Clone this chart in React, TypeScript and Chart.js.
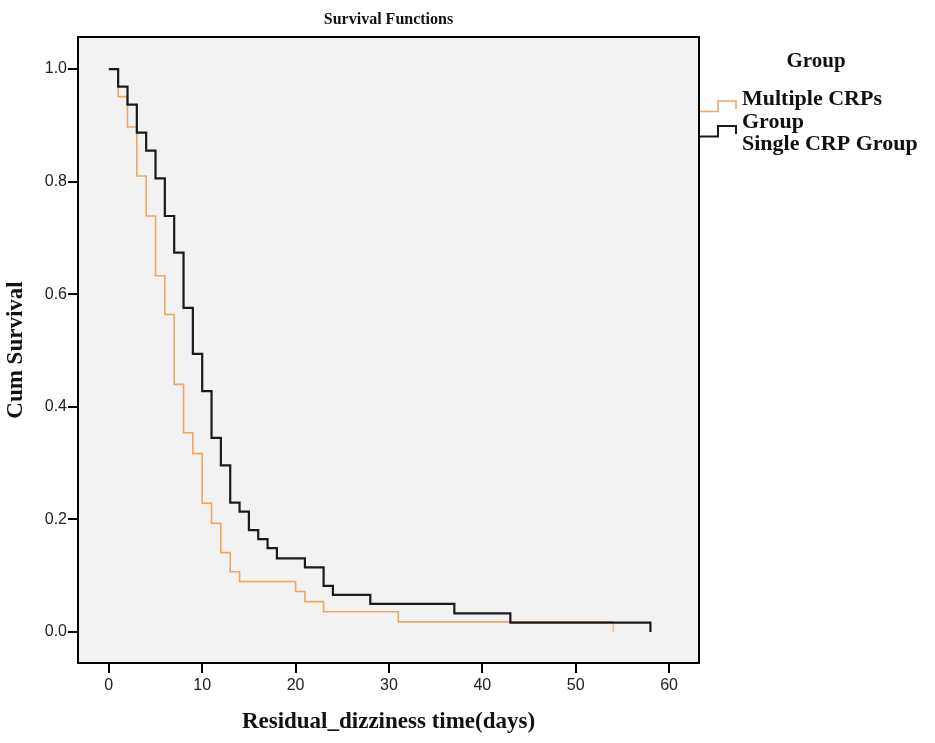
import { useEffect, useRef } from "react";
import { Chart, registerables, Plugin } from "chart.js";

Chart.register(...registerables);

// Kaplan-Meier steps (time in days, cumulative survival)
const multipleTimes = [0, 1, 2, 3, 4, 5, 6, 7, 8, 9, 10, 11, 12, 13, 14, 20, 21, 23, 31, 54];
const multipleSurvival = [
  1.0, 0.951, 0.897, 0.81, 0.739, 0.633, 0.564, 0.44, 0.354, 0.317, 0.229, 0.193, 0.141, 0.107,
  0.0895, 0.072, 0.054, 0.036, 0.018, 0.018,
];
const multipleCensored = [54];

const singleTimes = [0, 1, 2, 3, 4, 5, 6, 7, 8, 9, 10, 11, 12, 13, 14, 15, 16, 17, 18, 21, 23, 24, 28, 37, 43, 58];
const singleSurvival = [
  1.0, 0.969, 0.937, 0.887, 0.855, 0.806, 0.739, 0.674, 0.576, 0.494, 0.428, 0.345, 0.296, 0.23,
  0.214, 0.181, 0.165, 0.149, 0.131, 0.115, 0.082, 0.066, 0.05, 0.033, 0.0166, 0,
];

const groupLabels = ["Multiple CRPs Group", "Single CRP Group"];
const xTicks = [0, 10, 20, 30, 40, 50, 60];
const yTicks = [0, 0.2, 0.4, 0.6, 0.8, 1.0];

const ORANGE = "#eaa862";
const BLACK = "#1a1a1a";
const SERIF = "'Liberation Serif', 'Times New Roman', serif";
const SANS = "'Liberation Sans', Arial, sans-serif";

const toPoints = (t: number[], s: number[]) => t.map((x, i) => ({ x, y: s[i] }));

const valueAt = (t: number[], s: number[], time: number) => {
  let v = s[0];
  t.forEach((x, i) => {
    if (x <= time) v = s[i];
  });
  return v;
};

// censor mark: a short tick hanging below the curve
const makeCensorMark = () => {
  const c = document.createElement("canvas");
  c.width = 3;
  c.height = 20;
  const g = c.getContext("2d");
  if (g) {
    g.strokeStyle = ORANGE;
    g.lineWidth = 1.2;
    g.beginPath();
    g.moveTo(1.5, 10);
    g.lineTo(1.5, 20);
    g.stroke();
  }
  return c;
};

const framePlugin: Plugin<"line"> = {
  id: "frame",
  beforeDraw(chart) {
    const { ctx, chartArea: a } = chart;
    ctx.save();
    ctx.fillStyle = "#f2f2f2";
    ctx.fillRect(a.left, a.top, a.right - a.left, a.bottom - a.top);
    ctx.restore();
  },
  afterDraw(chart) {
    const { ctx, chartArea: a } = chart;
    ctx.save();
    ctx.strokeStyle = "#000";
    ctx.lineWidth = 2;
    ctx.strokeRect(a.left, a.top, a.right - a.left, a.bottom - a.top);

    // title
    ctx.fillStyle = "#111";
    ctx.font = `bold 16px ${SERIF}`;
    ctx.textAlign = "center";
    ctx.textBaseline = "alphabetic";
    ctx.fillText("Survival Functions", (a.left + a.right) / 2, 24);

    // legend
    const x0 = a.right + 1;
    ctx.font = `bold 21px ${SERIF}`;
    ctx.fillText("Group", x0 + 116, 67);

    const step = (y: number, color: string, w: number) => {
      ctx.beginPath();
      ctx.strokeStyle = color;
      ctx.lineWidth = w;
      ctx.moveTo(x0, y + 10.5);
      ctx.lineTo(x0 + 18, y + 10.5);
      ctx.lineTo(x0 + 18, y);
      ctx.lineTo(x0 + 36, y);
      ctx.lineTo(x0 + 36, y + 8);
      ctx.stroke();
    };
    step(101, ORANGE, 1.6);
    step(126, BLACK, 2);

    ctx.textAlign = "left";
    ctx.font = `bold 22px ${SERIF}`;
    const [multi, single] = groupLabels;
    const cut = multi.lastIndexOf(" ");
    ctx.fillText(multi.slice(0, cut), x0 + 42, 105);
    ctx.fillText(multi.slice(cut + 1), x0 + 42, 128);
    ctx.fillText(single, x0 + 42, 150);
    ctx.restore();
  },
};

export default function App() {
  const canvasRef = useRef<HTMLCanvasElement | null>(null);

  useEffect(() => {
    if (!canvasRef.current) return;
    const chart = new Chart(canvasRef.current, {
      type: "line",
      data: {
        datasets: [
          {
            label: groupLabels[0],
            data: toPoints(multipleTimes, multipleSurvival),
            borderColor: ORANGE,
            borderWidth: 1.6,
            stepped: true,
            pointRadius: 0,
            fill: false,
            order: 2,
          },
          {
            label: groupLabels[1],
            data: toPoints(singleTimes, singleSurvival),
            borderColor: BLACK,
            borderWidth: 2.2,
            stepped: true,
            pointRadius: 0,
            fill: false,
            order: 0,
          },
          {
            label: "Censored",
            data: multipleCensored.map((x) => ({ x, y: valueAt(multipleTimes, multipleSurvival, x) })),
            showLine: false,
            pointStyle: makeCensorMark(),
            pointRadius: 10,
            order: 1,
          },
        ],
      },
      options: {
        responsive: false,
        animation: false,
        layout: { padding: { left: 0, top: 37, right: 236, bottom: 0 } },
        plugins: {
          legend: { display: false },
          tooltip: { enabled: false },
          title: { display: false },
        },
        scales: {
          x: {
            type: "linear",
            position: "bottom",
            min: -3.3,
            max: 63.2,
            afterBuildTicks: (s) => {
              s.ticks = xTicks.map((value) => ({ value }));
            },
            afterFit: (s) => {
              s.height = 80;
            },
            border: { display: true, color: "#000", width: 2 },
            grid: { drawOnChartArea: false, drawTicks: true, tickLength: 10, color: "#000", lineWidth: 2 },
            ticks: { font: { family: SANS, size: 16 }, color: "#222", padding: 3, maxRotation: 0 },
            title: {
              display: true,
              text: "Residual_dizziness time(days)",
              font: { family: SERIF, size: 23, weight: "bold" },
              color: "#111",
              padding: { top: 0, bottom: 7 },
            },
          },
          y: {
            type: "linear",
            min: -0.055,
            max: 1.057,
            afterBuildTicks: (s) => {
              s.ticks = yTicks.map((value) => ({ value }));
            },
            afterFit: (s) => {
              s.width = 78;
            },
            border: { display: true, color: "#000", width: 2 },
            grid: { drawOnChartArea: false, drawTicks: true, tickLength: 10, color: "#000", lineWidth: 2 },
            ticks: {
              font: { family: SANS, size: 16 },
              color: "#222",
              padding: 1,
              callback: (v) => Number(v).toFixed(1),
            },
            title: {
              display: true,
              text: "Cum Survival",
              font: { family: SERIF, size: 23, weight: "bold" },
              color: "#111",
              padding: { top: 2, bottom: 0 },
            },
          },
        },
      },
      plugins: [framePlugin],
    });
    return () => chart.destroy();
  }, []);

  return (
    <div style={{ position: "absolute", left: 0, top: 0, width: 935, height: 743, background: "#fff" }}>
      <canvas ref={canvasRef} width={935} height={743} />
    </div>
  );
}
